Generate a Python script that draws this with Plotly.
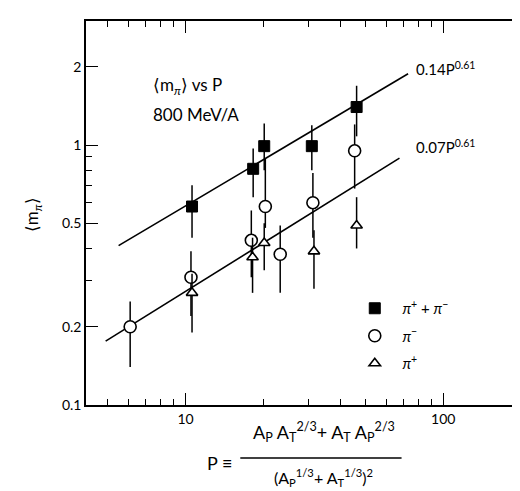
import plotly.graph_objects as go

# ---- data ----
P_sum = [10.6, 18.3, 20.2, 30.9, 46.1]
m_sum = [0.58, 0.81, 0.99, 0.99, 1.40]
sum_hi = [0.70, 0.97, 1.21, 1.19, 1.69]
sum_lo = [0.44, 0.63, 0.80, 0.80, 1.08]

P_minus = [6.1, 10.5, 18.0, 20.4, 23.3, 31.2, 45.3]
m_minus = [0.20, 0.31, 0.43, 0.58, 0.38, 0.60, 0.95]
minus_hi = [0.25, 0.39, 0.56, 0.89, 0.49, 0.78, 1.20]
minus_lo = [0.14, 0.22, 0.31, 0.48, 0.27, 0.44, 0.68]

P_plus = [10.6, 18.2, 20.2, 31.5, 46.1]
m_plus = [0.27, 0.37, 0.42, 0.39, 0.49]
plus_hi = [0.32, 0.44, 0.50, 0.47, 0.63]
plus_lo = [0.19, 0.27, 0.33, 0.28, 0.40]

fit_hi_P = [5.5, 73.0]
fit_hi_m = [0.41, 1.88]
fit_lo_P = [4.9, 67.6]
fit_lo_m = [0.176, 0.89]

x_ticks = [10, 100]
x_tick_labels = ["10", "100"]
x_minor = [5, 6, 7, 8, 9, 20, 30, 40, 50, 60, 70, 80, 90, 200]
y_ticks = [0.1, 0.2, 0.5, 1, 2]
y_tick_labels = ["0.1", "0.2", "0.5", "1", "2"]
y_minor = [0.3, 0.4, 0.6, 0.7, 0.8, 0.9, 3]

FONT = "Lato"
L, R, T, B = 78, 2, 13, 94
W, H = 520, 491
pw, ph = W - L - R, H - T - B


def px(x):
    return (x - L) / pw


def py(y):
    return (H - B - y) / ph


def err(vals, hi, lo):
    return ([h - v for h, v in zip(hi, vals)], [v - l for v, l in zip(vals, lo)])


NB = "\u00a0\u00a0"

fig = go.Figure()

fig.add_trace(go.Scatter(x=fit_hi_P, y=fit_hi_m, mode="lines",
                         line=dict(color="black", width=1.6), showlegend=False))
fig.add_trace(go.Scatter(x=fit_lo_P, y=fit_lo_m, mode="lines",
                         line=dict(color="black", width=1.6), showlegend=False))

up, dn = err(m_sum, sum_hi, sum_lo)
fig.add_trace(go.Scatter(
    x=P_sum, y=m_sum, mode="markers", name=NB + "<i>π</i><sup>+</sup> + <i>π</i><sup>−</sup>",
    legendgroup="a",
    marker=dict(symbol="square", size=11, color="black", line=dict(color="black", width=1)),
    error_y=dict(type="data", array=up, arrayminus=dn, color="black", thickness=1.5, width=0)))

up, dn = err(m_minus, minus_hi, minus_lo)
fig.add_trace(go.Scatter(
    x=P_minus, y=m_minus, mode="markers", name=NB + "<i>π</i><sup>−</sup>",
    legendgroup="b",
    marker=dict(symbol="circle", size=12, color="white", line=dict(color="black", width=1.6)),
    error_y=dict(type="data", array=up, arrayminus=dn, color="black", thickness=1.5, width=0)))

up, dn = err(m_plus, plus_hi, plus_lo)
fig.add_trace(go.Scatter(
    x=P_plus, y=m_plus, mode="markers", name=NB + "<i>π</i><sup>+</sup>",
    legendgroup="c",
    marker=dict(symbol="triangle-up", size=10, color="white", line=dict(color="black", width=1.6)),
    error_y=dict(type="data", array=up, arrayminus=dn, color="black", thickness=1.5, width=0)))

axis_common = dict(
    type="log", showgrid=False, zeroline=False, showline=True, linecolor="black",
    linewidth=1.5, mirror="allticks", ticks="inside", ticklen=12, tickwidth=1.3,
    tickcolor="black", tickfont=dict(family=FONT, size=14, color="black"),
)

fig.update_xaxes(**axis_common, range=[0.614, 2.313], tickvals=x_ticks,
                 ticktext=x_tick_labels,
                 minor=dict(tickvals=x_minor, ticks="inside", ticklen=6,
                            tickcolor="black", tickwidth=1.2))
fig.update_yaxes(**axis_common, range=[-1, 0.477], tickvals=y_ticks,
                 ticktext=y_tick_labels,
                 minor=dict(tickvals=y_minor, ticks="inside", ticklen=6,
                            tickcolor="black", tickwidth=1.2))

ann = [
    dict(x=px(143), y=py(78), text="⟨m<sub><i>π</i></sub>⟩ vs P", xanchor="left", yanchor="middle",
         font=dict(size=17)),
    dict(x=px(143), y=py(107), text="800 MeV/A", xanchor="left", yanchor="middle",
         font=dict(size=17)),
    dict(x=px(407), y=py(60), text="0.14P<sup>0.61</sup>", xanchor="left", yanchor="middle",
         font=dict(size=15)),
    dict(x=px(407), y=py(138), text="0.07P<sup>0.61</sup>", xanchor="left", yanchor="middle",
         font=dict(size=15)),
    dict(x=px(25), y=py(207), text="⟨m<sub><i>π</i></sub>⟩", textangle=-90,
         xanchor="center", yanchor="middle", font=dict(size=17)),
    dict(x=px(212), y=py(455), text="P ≡", xanchor="center", yanchor="middle",
         font=dict(size=18)),
    dict(x=px(317), y=py(424), text="A<sub>P</sub> A<sub>T</sub><sup>2/3</sup>+ A<sub>T</sub> A<sub>P</sub><sup>2/3</sup>",
         xanchor="center", yanchor="middle", font=dict(size=18)),
    dict(x=px(317), y=py(483), text="(A<sub>P</sub><sup>1/3</sup>+ A<sub>T</sub><sup>1/3</sup>)<sup>2</sup>",
         xanchor="center", yanchor="bottom", font=dict(size=16)),
]
for a in ann:
    a.update(xref="paper", yref="paper", showarrow=False)
    a["font"].update(family=FONT, color="black")

fig.update_layout(
    width=W, height=H, margin=dict(l=L, r=R, t=T, b=B),
    paper_bgcolor="white", plot_bgcolor="white",
    annotations=ann,
    shapes=[dict(type="line", xref="paper", yref="paper", x0=px(233), x1=px(395),
                 y0=py(450), y1=py(450), line=dict(color="black", width=1.5))],
    legend=dict(x=px(348), y=py(284), xanchor="left", yanchor="top",
                bgcolor="rgba(0,0,0,0)", font=dict(family=FONT, size=15, color="black"),
                tracegroupgap=5),
    font=dict(family=FONT, color="black"),
)

fig.write_html("out.html")
